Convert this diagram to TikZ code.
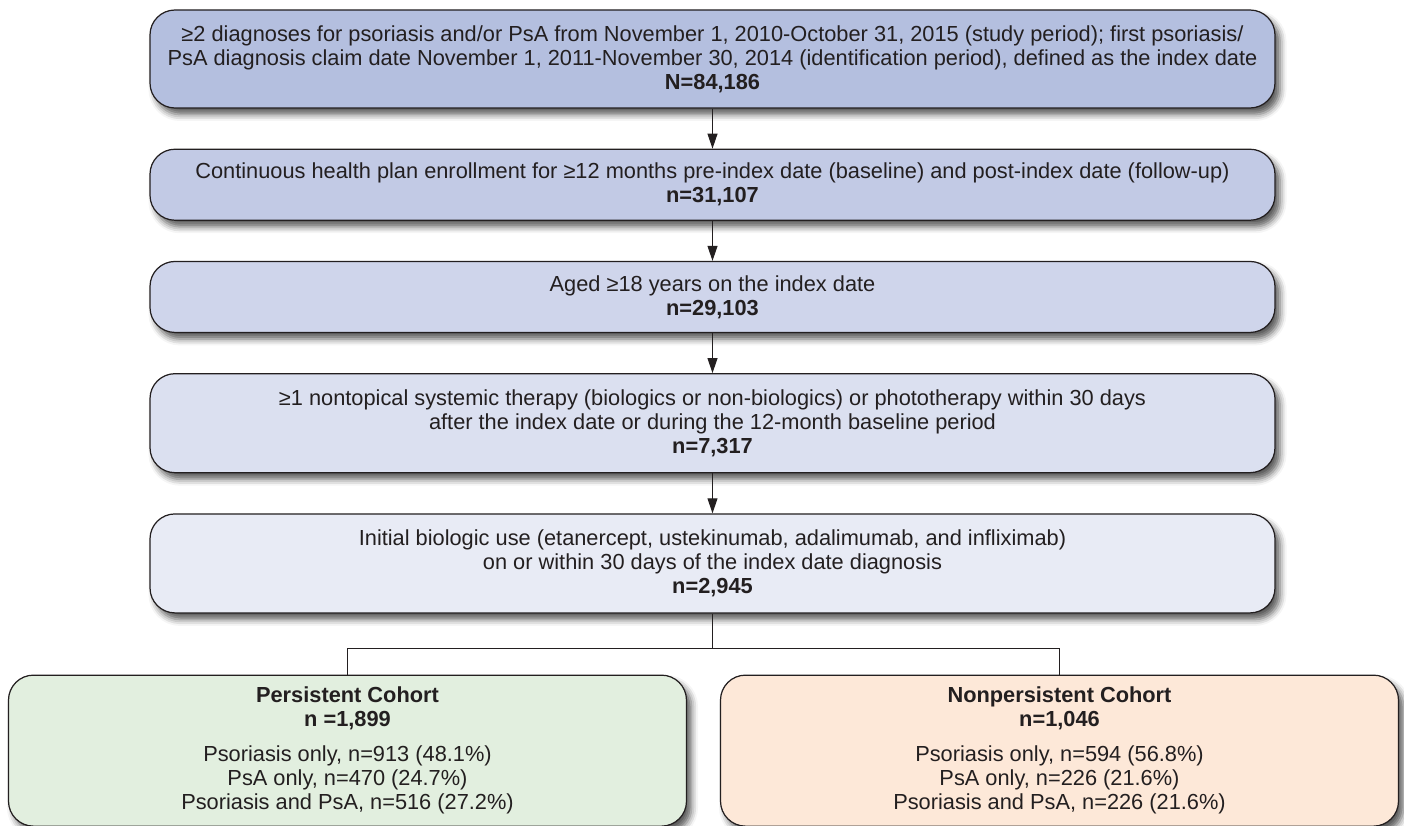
\documentclass[tikz,border=0pt]{standalone}
\usepackage{fontspec}
\setmainfont{Liberation Sans}
\usetikzlibrary{arrows.meta, positioning, shadows.blur}

\definecolor{studyfill}{HTML}{B4BFDF}
\definecolor{enrolfill}{HTML}{C2CAE5}
\definecolor{agefill}{HTML}{CFD5EB}
\definecolor{therapyfill}{HTML}{DBE0F0}
\definecolor{biofill}{HTML}{E8EBF5}
\definecolor{persfill}{HTML}{E2EFDF}
\definecolor{nonpfill}{HTML}{FDE8D8}
\definecolor{edge}{HTML}{231F20}

\begin{document}
\begin{tikzpicture}[
    node distance=0.8cm and 0.8cm,
    every node/.style={font=\fontsize{12.4}{13.7}\selectfont, text=edge},
    box/.style={draw=edge, line width=0.7pt, rounded corners=0.5cm, align=center, minimum width=22.5cm,
        blur shadow={shadow xshift=0.1cm, shadow yshift=-0.13cm, shadow blur radius=0.13cm, shadow opacity=65}},
    cohort/.style={box, minimum width=13.56cm, minimum height=3.02cm},
    arrow/.style={-{Triangle[length=0.3cm, width=0.2cm]}, line width=0.6pt, draw=edge},
    link/.style={line width=0.6pt, draw=edge}
]
    \useasboundingbox (0,0) rectangle (28.08,-16.52);

    \node[box, fill=studyfill, minimum height=1.96cm] (study) at (14.25,-1.18)
        {≥2 diagnoses for psoriasis and/or PsA from November 1, 2010-October 31, 2015 (study period); first psoriasis/\\
         PsA diagnosis claim date November 1, 2011-November 30, 2014 (identification period), defined as the index date\\
         \textbf{N=84,186}};
    \node[box, fill=enrolfill, minimum height=1.42cm, below=of study] (enrol)
        {Continuous health plan enrollment for ≥12 months pre-index date (baseline) and post-index date (follow-up)\\
         \textbf{n=31,107}};
    \node[box, fill=agefill, minimum height=1.42cm, below=of enrol] (age)
        {Aged ≥18 years on the index date\\
         \textbf{n=29,103}};
    \node[box, fill=therapyfill, minimum height=1.98cm, below=of age] (therapy)
        {≥1 nontopical systemic therapy (biologics or non-biologics) or phototherapy within 30 days\\
         after the index date or during the 12-month baseline period\\
         \textbf{n=7,317}};
    \node[box, fill=biofill, minimum height=1.98cm, below=of therapy] (bio)
        {Initial biologic use (etanercept, ustekinumab, adalimumab, and infliximab)\\
         on or within 30 days of the index date diagnosis\\
         \textbf{n=2,945}};

    \node[cohort, fill=persfill, below=1.22cm of bio, xshift=-7.3cm] (pers)
        {\textbf{Persistent Cohort}\\
         \textbf{n =1,899}\\[6pt]
         Psoriasis only, n=913 (48.1\%)\\
         PsA only, n=470 (24.7\%)\\
         Psoriasis and PsA, n=516 (27.2\%)};
    \node[cohort, fill=nonpfill, below=1.22cm of bio, xshift=6.94cm] (nonp)
        {\textbf{Nonpersistent Cohort}\\
         \textbf{n=1,046}\\[6pt]
         Psoriasis only, n=594 (56.8\%)\\
         PsA only, n=226 (21.6\%)\\
         Psoriasis and PsA, n=226 (21.6\%)};

    \draw[arrow] (study) -- (enrol);
    \draw[arrow] (enrol) -- (age);
    \draw[arrow] (age) -- (therapy);
    \draw[arrow] (therapy) -- (bio);

    \draw[link] (bio.south) -- ++(0,-0.7) coordinate (split);
    \draw[link] (split) -| (pers.north);
    \draw[link] (split) -| (nonp.north);
\end{tikzpicture}
\end{document}
